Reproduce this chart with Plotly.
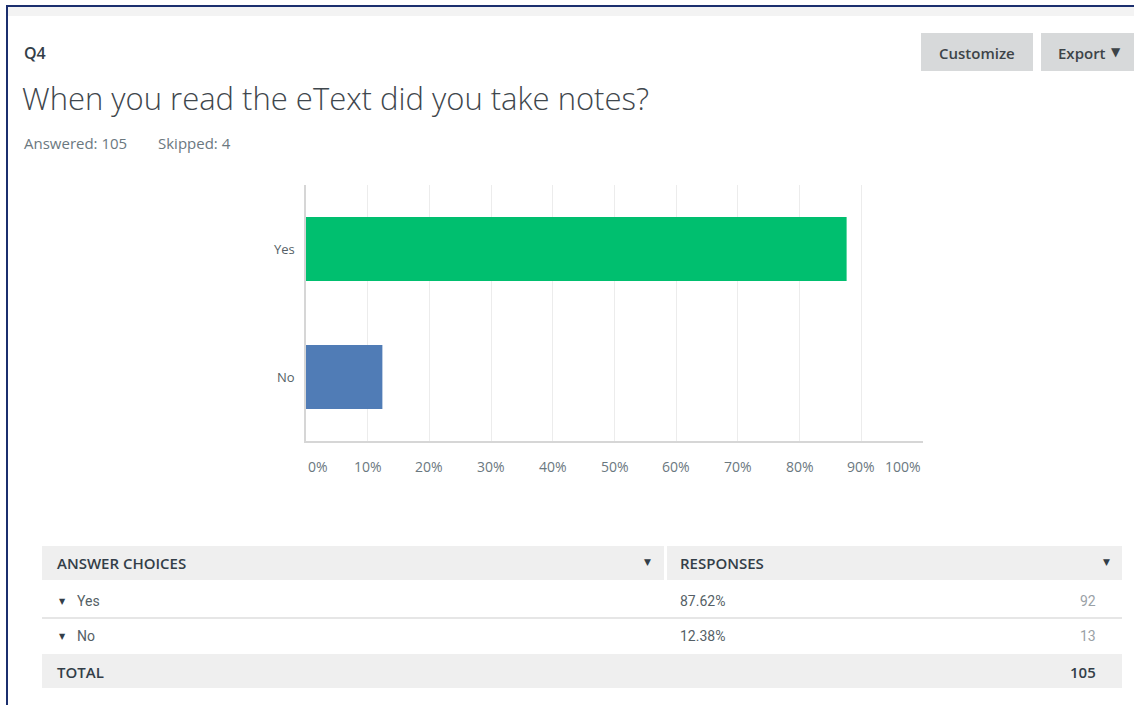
import plotly.graph_objects as go

# ---- data ----
categories = ["Yes", "No"]
percents = [87.62, 12.38]
counts = [92, 13]
bar_colors = ["#00bf6f", "#507cb6"]
tick_vals = [0, 10, 20, 30, 40, 50, 60, 70, 80, 90, 100]
tick_labels = ["0%", "10%", "20%", "30%", "40%", "50%", "60%", "70%", "80%", "90%", "100%"]
question_no = "Q4"
question = "When you read the eText did you take notes?"
answered = 105
skipped = 4
total = 105

W, H = 1134, 705


def px(x):
    return x / W


def py(y):
    return 1 - y / H


fig = go.Figure()
fig.add_trace(go.Bar(
    y=categories, x=percents, orientation="h",
    marker=dict(color=bar_colors, line=dict(width=0)),
    width=0.5, hoverinfo="skip",
))

shapes = []
ann = []

# outer frame
shapes.append(dict(type="rect", xref="paper", yref="paper", x0=px(8), x1=px(1140), y0=py(16), y1=py(7),
                   fillcolor="#f3f3f3", line=dict(width=0), layer="below"))
shapes.append(dict(type="line", xref="paper", yref="paper", x0=px(6), x1=px(1140), y0=py(6), y1=py(6),
                   line=dict(color="#1b2f6e", width=2)))
shapes.append(dict(type="line", xref="paper", yref="paper", x0=px(7), x1=px(7), y0=py(710), y1=py(5),
                   line=dict(color="#1b2f6e", width=2)))

# buttons
shapes.append(dict(type="rect", xref="paper", yref="paper", x0=px(921), x1=px(1033), y0=py(71), y1=py(33),
                   fillcolor="#d7d9da", line=dict(width=0), layer="below"))
shapes.append(dict(type="rect", xref="paper", yref="paper", x0=px(1041), x1=px(1140), y0=py(71), y1=py(33),
                   fillcolor="#d7d9da", line=dict(width=0), layer="below"))
ann.append(dict(xref="paper", yref="paper", x=px(977), y=py(53), text="Customize", showarrow=False,
                xanchor="center", yanchor="middle",
                font=dict(family="Open Sans", size=15, weight=600, color="#3d4448")))
ann.append(dict(xref="paper", yref="paper", x=px(1056), y=py(53), text="Export", showarrow=False,
                xanchor="left", yanchor="middle",
                font=dict(family="Open Sans", size=15, weight=600, color="#3d4448")))
ann.append(dict(xref="paper", yref="paper", x=px(1116), y=py(52), text="▼", showarrow=False,
                xanchor="center", yanchor="middle",
                font=dict(family="DejaVu Sans", size=12, color="#3d4448")))

# titles
ann.append(dict(xref="paper", yref="paper", x=px(22), y=py(53), text=question_no, showarrow=False,
                xanchor="left", yanchor="middle",
                font=dict(family="Open Sans", size=16, weight=600, color="#333e48")))
ann.append(dict(xref="paper", yref="paper", x=px(20), y=py(98), text=question, showarrow=False,
                xanchor="left", yanchor="middle",
                font=dict(family="Open Sans", size=31, weight=300, color="#3f474d")))
ann.append(dict(xref="paper", yref="paper", x=px(22), y=py(143), text="Answered: %d" % answered, showarrow=False,
                xanchor="left", yanchor="middle", font=dict(family="Open Sans", size=15, color="#6b787f")))
ann.append(dict(xref="paper", yref="paper", x=px(156), y=py(143), text="Skipped: %d" % skipped, showarrow=False,
                xanchor="left", yanchor="middle", font=dict(family="Open Sans", size=15, color="#6b787f")))

# x tick labels (first/last inset as in original)
for v, t in zip(tick_vals, tick_labels):
    anchor = "center"
    if v == tick_vals[0]:
        anchor = "left"
    elif v == tick_vals[-1]:
        anchor = "right"
    ann.append(dict(xref="x", yref="paper", x=v, y=py(467), text=t, showarrow=False,
                    xanchor=anchor, yanchor="middle", font=dict(family="Open Sans", size=14, color="#6b787f")))

# table
tfont = "Roboto"
hfont = dict(family="Open Sans", size=15, weight=600, color="#333e48")
shapes.append(dict(type="rect", xref="paper", yref="paper", x0=px(42), x1=px(664), y0=py(580), y1=py(546),
                   fillcolor="#efefef", line=dict(width=0), layer="below"))
shapes.append(dict(type="rect", xref="paper", yref="paper", x0=px(667), x1=px(1122), y0=py(580), y1=py(546),
                   fillcolor="#efefef", line=dict(width=0), layer="below"))
shapes.append(dict(type="line", xref="paper", yref="paper", x0=px(42), x1=px(1122), y0=py(618), y1=py(618),
                   line=dict(color="#dedede", width=1.5)))
shapes.append(dict(type="rect", xref="paper", yref="paper", x0=px(42), x1=px(1122), y0=py(688), y1=py(654),
                   fillcolor="#efefef", line=dict(width=0), layer="below"))

ann.append(dict(xref="paper", yref="paper", x=px(55), y=py(563), text="ANSWER CHOICES", showarrow=False,
                xanchor="left", yanchor="middle", font=hfont))
ann.append(dict(xref="paper", yref="paper", x=px(647), y=py(562), text="▼", showarrow=False,
                xanchor="center", yanchor="middle", font=dict(family="DejaVu Sans", size=9, color="#333e48")))
ann.append(dict(xref="paper", yref="paper", x=px(678), y=py(563), text="RESPONSES", showarrow=False,
                xanchor="left", yanchor="middle", font=hfont))
ann.append(dict(xref="paper", yref="paper", x=px(1106), y=py(562), text="▼", showarrow=False,
                xanchor="center", yanchor="middle", font=dict(family="DejaVu Sans", size=9, color="#333e48")))

row_y = [601, 636]
for c, p, n, yy in zip(categories, percents, counts, row_y):
    ann.append(dict(xref="paper", yref="paper", x=px(62), y=py(yy), text="▼", showarrow=False,
                    xanchor="center", yanchor="middle", font=dict(family="DejaVu Sans", size=8, color="#333e48")))
    ann.append(dict(xref="paper", yref="paper", x=px(75), y=py(yy), text=c, showarrow=False,
                    xanchor="left", yanchor="middle", font=dict(family=tfont, size=14, color="#555f66")))
    ann.append(dict(xref="paper", yref="paper", x=px(678), y=py(yy), text="%.2f%%" % p, showarrow=False,
                    xanchor="left", yanchor="middle", font=dict(family=tfont, size=14, color="#555f66")))
    ann.append(dict(xref="paper", yref="paper", x=px(1098), y=py(yy), text=str(n), showarrow=False,
                    xanchor="right", yanchor="middle", font=dict(family=tfont, size=14, color="#9aa1a6")))

ann.append(dict(xref="paper", yref="paper", x=px(55), y=py(672), text="TOTAL", showarrow=False,
                xanchor="left", yanchor="middle", font=hfont))
ann.append(dict(xref="paper", yref="paper", x=px(1098), y=py(672), text="%d" % total, showarrow=False,
                xanchor="right", yanchor="middle", font=hfont))

fig.update_layout(
    width=W, height=H,
    margin=dict(l=0, r=0, t=0, b=0),
    paper_bgcolor="white", plot_bgcolor="white",
    showlegend=False,
    shapes=shapes, annotations=ann,
    xaxis=dict(domain=[px(306), px(923)], range=[0, 100], tickvals=tick_vals, showticklabels=False,
               showgrid=True, gridcolor="#ececec", gridwidth=1, zeroline=False,
               showline=True, linecolor="#d6d6d6", linewidth=1.5, mirror=False, fixedrange=True),
    yaxis=dict(domain=[py(441), py(185)], categoryorder="array", categoryarray=categories[::-1],
               range=[-0.5, 1.5], showgrid=False, zeroline=False,
               showline=True, linecolor="#d6d6d6", linewidth=1.5, ticks="", ticklabelstandoff=7,
               tickfont=dict(family="Open Sans", size=13, color="#555f66"), fixedrange=True),
)

fig.write_html("out.html")
